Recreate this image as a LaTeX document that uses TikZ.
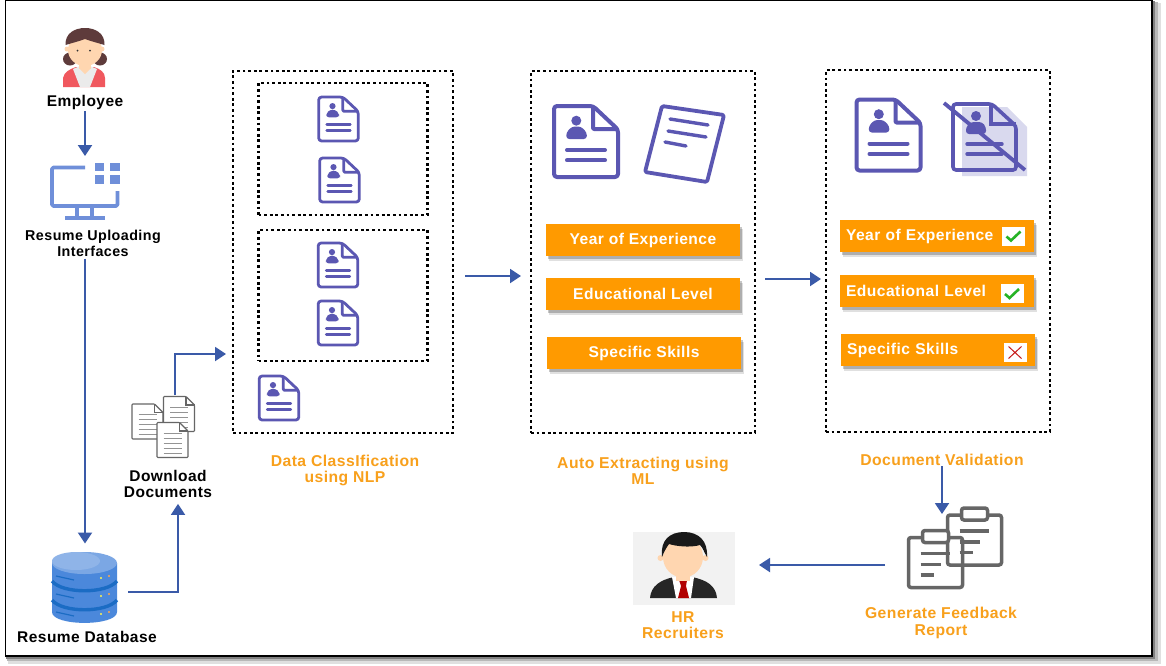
\documentclass[tikz,border=0pt]{standalone}
\usepackage{fontspec}
\setmainfont{Liberation Sans}[LetterSpace=3]
\usepackage{xcolor}
\usetikzlibrary{calc}
\usetikzlibrary{arrows.meta, shadows}

\definecolor{flowblue}{HTML}{3A5AA8}
\definecolor{docpurple}{HTML}{5B57B2}
\definecolor{docshade}{HTML}{D9D9EE}
\definecolor{barorange}{HTML}{FF9A00}
\definecolor{labelorange}{HTML}{F8A01C}
\definecolor{screenblue}{HTML}{6F8FD9}
\definecolor{iconGray}{HTML}{666666}
\definecolor{hairbrown}{HTML}{5E3B3B}
\definecolor{skin}{HTML}{FFD6B0}
\definecolor{jacketred}{HTML}{F0585E}
\definecolor{dbblue}{HTML}{4B88DB}
\definecolor{dbdark}{HTML}{1B6CC4}
\definecolor{dbtop}{HTML}{8FB4E8}

\tikzset{
  flow/.style = {draw=flowblue, line width=1.9pt, -{Triangle[length=11pt,width=14pt]}},
  dotbox/.style = {draw, line width=2.3pt, dash pattern=on 2.8pt off 2.8pt, inner sep=0, outer sep=0},
  iconspot/.style = {inner sep=0, outer sep=0},
  blacklabel/.style = {align=center, font=\fontsize{15.5}{16}\selectfont\bfseries, inner sep=1pt},
  orangelabel/.style = {blacklabel, text=labelorange, font=\fontsize{15.7}{16.5}\selectfont\bfseries},
  barbox/.style = {fill=barorange, text=white, minimum width=194pt, minimum height=32pt, inner sep=0, outer sep=0,
    font=\fontsize{15.6}{16}\selectfont\bfseries,
    drop shadow={shadow xshift=3pt, shadow yshift=-4.5pt, fill=black, opacity=.12},
    drop shadow={shadow xshift=1.5pt, shadow yshift=-2.5pt, fill=black, opacity=.22}},
  barleft/.style = {barbox, align=left, text width=182pt},
  tickbox/.style = {fill=white, minimum width=23pt, minimum height=19pt, inner sep=0},
  pics/resumedoc/.style = {code={
    \begin{scope}[line width=#1, draw=docpurple, line join=round]
    \draw[fill=white, rounded corners=3pt] (-32,-35.5) -- (7,-35.5) -- (32,-12) -- (32,35.5) -- (-32,35.5) -- cycle;
    \draw[rounded corners=1pt] (7,-35.5) -- (7,-12.5) -- (32,-12.5);
    \fill[docpurple] (-9.7,-20.8) circle (5);
    \fill[docpurple, rounded corners=3pt] (-19.7,-2.5) -- (-19.7,-9) -- (-14,-15) -- (-5,-15) -- (.8,-9) -- (.8,-2.5) -- cycle;
    \draw[line cap=round] (-19,8.5) -- (19,8.5);
    \draw[line cap=round] (-19,18.8) -- (19,18.8);
    \end{scope}
  }},
  pics/greydoc/.style = {code={
    \draw[iconGray, fill=white, line width=1.1pt, rounded corners=.8pt] (-15.5,-17.5) -- (7,-17.5) -- (15.5,-9) -- (15.5,17.5) -- (-15.5,17.5) -- cycle;
    \draw[iconGray, line width=1.1pt] (7,-17.5) -- (7,-9) -- (15.5,-9);
    \foreach \ypos in {-7,-2,3,8,13}
      \draw[iconGray!70, line width=1pt] (-9,\ypos) -- (9,\ypos);
  }},
  pics/clipboard/.style = {code={
    \draw[iconGray, line width=3.5pt, rounded corners=2.5pt] (-27,-25) -- (27,-25) -- (27,25) -- (-27,25) -- cycle;
    \draw[iconGray, fill=white, line width=3.5pt, rounded corners=2.5pt] (-13,-32) rectangle (13,-20);
    \draw[iconGray, line width=3.2pt] (-15,-9) -- (14,-9);
    \draw[iconGray, line width=3.2pt] (-15,2) -- (5,2);
    \draw[iconGray, line width=3.2pt] (-15,12.5) -- (-2,12.5);
  }},
  pics/tickmark/.style = {code={
    \draw[green!65!black!85!white, line width=2.6pt] (-7,.5) -- (-2.5,4.5) -- (7,-4.5);
  }},
  pics/crossmark/.style = {code={
    \draw[red!75!black!90!white, line width=1pt] (-6.5,-6) -- (6.5,6) (-6.5,6) -- (6.5,-6);
  }},
}

\begin{document}
\begin{tikzpicture}[x=1pt, y=-1pt]
\useasboundingbox (0,0) rectangle (1166,665);
\fill[black!12] (8,3) rectangle (1161,664);
\fill[black!28] (7,2) rectangle (1158,661);
\fill[black!50] (6,1) rectangle (1155,658.5);
\draw[black, fill=white, line width=1.2pt] (5.5,.6) rectangle (1152,656);

% left column
\fill[hairbrown] (70,59) ellipse (7 and 6.5);
\fill[hairbrown] (100,59) ellipse (7 and 6.5);
\fill[jacketred] (63,87) -- (63,78) .. controls (64,72) and (70,69) .. (76,67) -- (94,67) .. controls (100,69) and (105,72) .. (105,78) -- (105,87) -- cycle;
\fill[black!8] (73,69) -- (80,66) -- (90,66) -- (97,69) -- (90,87) -- (80,87) -- cycle;
\fill[skin] (79,60) rectangle (91,69);
\fill[skin] (80,69) -- (90,69) -- (85,74) -- cycle;
\fill[skin] (67,49) circle (2.5);
\fill[skin] (102,49) circle (2.5);
\fill[skin] (85,50) ellipse (17 and 16);
\fill[hairbrown] (65.5,45) .. controls (65,33) and (75,28) .. (85,28) .. controls (95,28) and (105,33) .. (104.5,45) .. controls (98,43) and (90,41) .. (85,39) .. controls (80,41) and (72,43) .. (65.5,45) -- cycle;
\fill[black!80] (77.5,50.5) circle (1);
\fill[black!80] (90,50.5) circle (1);
\node[blacklabel] (employee) at (85,102) {Employee};

\node[iconspot, minimum width=70pt, minimum height=62pt] (monitor) at (85,187) {};
\draw[screenblue, line width=3.8pt, line join=round, rounded corners=1.5pt] (85,167.5) -- (52,167.5) -- (52,206) -- (117.5,206) -- (117.5,191);
\draw[screenblue, line width=3.6pt] (77,207) -- (77,218) (92,207) -- (92,218);
\draw[screenblue, line width=3.6pt] (65,218) -- (105,218);
\foreach \xpos in {94.5,110} \foreach \ypos in {162.5,175}
  \fill[screenblue] (\xpos,\ypos) rectangle ++(9.5,8.5);
\node[blacklabel, font=\fontsize{14.3}{15.5}\selectfont\bfseries] (interfaces) at (93,243.5) {Resume Uploading\\Interfaces};
\draw[flow] (employee.south -| monitor.north) ++(0,1) -- (monitor.north);

\node[iconspot, minimum width=86pt, minimum height=72pt] (database) at (85,587.5) {};
\fill[dbblue] (52,563) -- (52,612) .. controls (52,626.5) and (117,626.5) .. (117,612) -- (117,563) -- cycle;
\fill[dbtop!70!dbblue] (84.5,563) ellipse (32.5 and 11);
\fill[dbtop] (76,561) ellipse (24 and 9);
\draw[dbdark, line width=3.4pt] (52,581) .. controls (62,594) and (107,594) .. (117,581);
\draw[dbdark, line width=3.4pt] (52,600) .. controls (62,613) and (107,613) .. (117,600);
\foreach \ypos in {0,18,36}
  \draw[dbdark, line width=1.2pt] (56,576+\ypos) -- (74,580+\ypos);
\foreach \ypos in {0,18,36} {
  \fill[yellow!70] (101,578+\ypos) circle (1.2);
  \fill[orange!70] (109,576+\ypos) circle (1.2);
}
\node[blacklabel] (dblabel) at (87,637) {Resume Database};
\draw[flow, shorten <=1pt, shorten >=8pt] (interfaces.south -| database.north) -- (database.north);

\node[iconspot, minimum width=63pt, minimum height=61pt] (stack) at (163.5,426.5) {};
\pic at (147.5,421.5) {greydoc};
\pic at (179,414) {greydoc};
\pic at (172.5,440) {greydoc};
\node[blacklabel] (download) at (168,484) {Download\\Documents};
\draw[flow] ($(database.east)+(0,4.5)$) -| ($(download.south)+(10,5)$);

% dotted frames
\node[dotbox, minimum width=220pt, minimum height=362pt] (classbox) at (343,252) {};
\node[dotbox, minimum width=169pt, minimum height=132pt] (innertop) at (343,149) {};
\node[dotbox, minimum width=169pt, minimum height=131pt] (innerbottom) at (343,295.5) {};
\node[dotbox, minimum width=224pt, minimum height=362pt] (extractbox) at (643,252) {};
\node[dotbox, minimum width=224pt, minimum height=362pt] (validbox) at (938,251) {};

\pic[scale=.62] at (338.5,119) {resumedoc=2.8pt};
\pic[scale=.62] at (339.5,180) {resumedoc=2.8pt};
\pic[scale=.62] at (338,265) {resumedoc=2.8pt};
\pic[scale=.62] at (338,323) {resumedoc=2.8pt};
\pic[scale=.62] at (279,398) {resumedoc=2.8pt};

\draw[flow, shorten >=7pt] ($(stack.north)+(11.5,-1)$) |- ($(classbox.west)+(0,102)$);

\node[orangelabel] (classlabel) at (345,470.5) {Data ClassIfication\\using NLP};

% extraction
\pic at (586,141.5) {resumedoc=4pt};
\draw[docpurple, line width=3.8pt, fill=white, line join=round, rounded corners=1.5pt] (662,106) -- (724,115) -- (707,182) -- (645,172) -- cycle;
\draw[docpurple, line width=3.4pt, line cap=round] (670,119) -- (708,125);
\draw[docpurple, line width=3.4pt, line cap=round] (668,131) -- (706,137);
\draw[docpurple, line width=3.4pt, line cap=round] (665,142) -- (686,146);

\node[barbox] (yearbar) at (643,240) {Year of Experience};
\node[barbox] (levelbar) at (643,294) {Educational Level};
\node[barbox] (skillbar) at (644,353) {Specific Skills};
\node[orangelabel] (extractlabel) at (643,471) {Auto Extracting using\\ML};

\draw[flow, shorten <=12pt, shorten >=10pt] ($(classbox.east)+(0,24)$) -- ($(extractbox.west)+(0,24)$);

% validation
\pic at (888.5,135) {resumedoc=4pt};
\fill[docshade] (962,107) -- (1007,107) -- (1027,127) -- (1027,176) -- (962,176) -- cycle;
\draw[docpurple, line width=3.6pt, rounded corners=3pt] (953,104) -- (992,104) -- (1016,126) -- (1016,170) -- (953,170) -- cycle;
\draw[docpurple, line width=3.4pt] (991,104) -- (991,124) -- (1016,124);
\fill[docpurple] (976,116) circle (5);
\fill[docpurple, rounded corners=3pt] (966,134) -- (966,127) -- (971,122) -- (982,122) -- (986,127) -- (986,134) -- cycle;
\draw[docpurple, line width=3.4pt, line cap=round] (967,144) -- (1002,144) (967,154) -- (1002,154);
\draw[docpurple, line width=3.8pt] (944,103) -- (1025,170);

\node[barleft] (yearcheck) at (937,236) {\raisebox{-1.5pt}{Year of Experience}};
\node[barleft] (levelcheck) at (937,291) {Educational Level};
\node[barleft] (skillcheck) at (938,350) {\raisebox{-1.5pt}{Specific Skills}};
\node[tickbox] (tickone) at (1013.5,236) {};
\node[tickbox] (ticktwo) at (1012,293.5) {};
\node[tickbox] (crossbox) at (1015,352.5) {};
\pic at (tickone) {tickmark};
\pic at (ticktwo) {tickmark};
\pic at (crossbox) {crossmark};
\node[orangelabel] (validlabel) at (942,459.5) {Document Validation};

\draw[flow, shorten <=10pt, shorten >=5pt] ($(extractbox.east)+(0,27)$) -- ($(validbox.west)+(0,28)$);

% report and recruiters
\node[iconspot, minimum width=94pt, minimum height=74pt] (report) at (955,551) {};
\pic at (974.5,540) {clipboard};
\pic at (935.5,562.5) {clipboard};
\node[orangelabel] (reportlabel) at (941,623) {Generate Feedback\\Report};
\draw[flow] (validlabel.south) -- (validlabel.south |- report.north);

\node[iconspot, fill=black!5, minimum width=102pt, minimum height=73pt] (recruiter) at (684,568.5) {};
\fill[black!85] (650,598) .. controls (651,586) and (660,580) .. (674,577) -- (692,577) .. controls (707,580) and (716,586) .. (717,598) -- cycle;
\fill[white] (672,577) -- (694,577) -- (691,598) -- (676,598) -- cycle;
\fill[red!70!black] (679,580) -- (687,580) -- (686,586) -- (689,598) -- (678,598) -- (681,586) -- cycle;
\fill[skin] (660.5,558) circle (3);
\fill[skin] (705.5,558) circle (3);
\fill[skin] (676,565) rectangle (690,581);
\fill[skin] (683,557) ellipse (20 and 20.5);
\fill[black!90] (662,557) .. controls (660,540) and (670,532) .. (684,532) .. controls (699,532) and (708,541) .. (707,557) .. controls (704,552) and (703,548) .. (700,545) .. controls (690,548) and (675,546) .. (669,544) .. controls (666,548) and (664,552) .. (662,557) -- cycle;
\node[orangelabel] (hrlabel) at (683,625) {HR\\Recruiters};
\draw[flow, shorten <=23pt, shorten >=24pt] ($(report.west)+(0,14)$) -- ($(recruiter.east)+(0,-3.5)$);

\end{tikzpicture}
\end{document}
